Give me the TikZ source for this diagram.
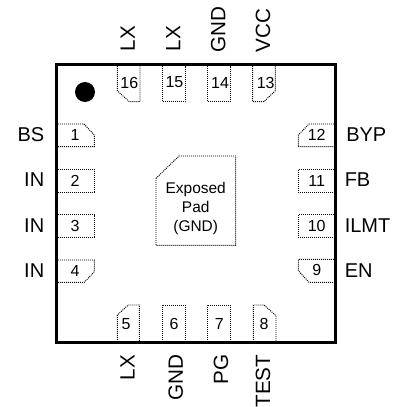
\documentclass[tikz,border=0pt]{standalone}
\usepackage{fontspec}
\setmainfont{Liberation Sans}

\tikzset{
	padline/.style={dash pattern=on 0.75pt off 0.75pt, line width=0.7pt},
	pinnum/.style={font=\fontsize{12}{14.6}\selectfont, inner sep=0pt},
	padtext/.style={font=\fontsize{11.6}{14.6}\selectfont, inner sep=0pt},
	pinname/.style={font=\fontsize{15}{18}\selectfont, inner sep=0pt},
	upname/.style={font=\fontsize{15.5}{18}\selectfont, inner sep=0pt, rotate=90}
}

\begin{document}
\begin{tikzpicture}[x=0.75pt, y=-0.75pt]
	\useasboundingbox (0,0) rectangle (403,407);
	\coordinate (tl) at (56.5, 64.5);
	\coordinate (tr) at (335.5, 64.5);
	\coordinate (br) at (335.5, 342.5);
	\coordinate (bl) at (56.5, 342.5);

	% left pads
	\draw[padline] (58,124) -- (84,124) -- (94.3,135) -- (94.3,146.7) -- (58,146.7);
	\draw[padline] (58,169.3) -- (94.3,169.3) -- (94.3,192) -- (58,192);
	\draw[padline] (58,214.5) -- (94.3,214.5) -- (94.3,237) -- (58,237);
	\draw[padline] (58,260) -- (94.3,260) -- (94.3,271.7) -- (84.3,282.3) -- (58,282.3);
	\node[pinnum] (n1) at (75,135) {1};
	\node[pinnum] (n2) at (75,180.5) {2};
	\node[pinnum] (n3) at (75,226) {3};
	\node[pinnum] (n4) at (75,270.7) {4};

	% bottom pads
	\draw[padline] (117.3,342) -- (117.3,315) -- (128.3,305) -- (139.3,305) -- (139.3,342);
	\draw[padline] (162.3,342) -- (162.3,305) -- (185.3,305) -- (185.3,342);
	\draw[padline] (207.3,342) -- (207.3,305) -- (230.7,305) -- (230.7,342);
	\draw[padline] (253.3,342) -- (253.3,305) -- (264,305) -- (276,315.7) -- (276,342);
	\node[pinnum] (n5) at (126,324) {5};
	\node[pinnum] (n6) at (174,324) {6};
	\node[pinnum] (n7) at (219.3,324) {7};
	\node[pinnum] (n8) at (264,324) {8};

	% right pads
	\draw[padline] (334,259.3) -- (298.3,259.3) -- (298.3,270.7) -- (309,282.3) -- (334,282.3);
	\draw[padline] (334,214.5) -- (298.3,214.5) -- (298.3,237) -- (334,237);
	\draw[padline] (334,169.3) -- (298.3,169.3) -- (298.3,192) -- (334,192);
	\draw[padline] (334,124) -- (309,124) -- (298.3,135) -- (298.3,146.7) -- (334,146.7);
	\node[pinnum] (n9) at (316.7,270) {9};
	\node[pinnum] (n10) at (316.7,225.5) {10};
	\node[pinnum] (n11) at (316.7,180.5) {11};
	\node[pinnum] (n12) at (316.7,134.5) {12};

	% top pads
	\draw[padline] (252.7,66) -- (252.7,101.7) -- (264,101.7) -- (275.3,90.7) -- (275.3,66);
	\draw[padline] (207.3,66) -- (207.3,101.7) -- (230.3,101.7) -- (230.3,66);
	\draw[padline] (162.3,66) -- (162.3,101.7) -- (185,101.7) -- (185,66);
	\draw[padline] (117.3,66) -- (117.3,90.7) -- (129.3,101.7) -- (140,101.7) -- (140,66);
	\node[pinnum] (n13) at (265.7,82.5) {13};
	\node[pinnum] (n14) at (220,82.5) {14};
	\node[pinnum] (n15) at (174.5,82.5) {15};
	\node[pinnum] (n16) at (129.3,82.5) {16};

	% exposed pad
	\draw[padline] (156,178.3) -- (179,156) -- (235.7,156) -- (235.7,245.3) -- (156,245.3) -- cycle;
	\node[padtext, align=center] (gndpad) at (195.7,208.5) {Exposed\\Pad\\(GND)};

	\fill (85,92) circle (10);
	\draw[line width=2pt] (tl) -- (tr) -- (br) -- (bl) -- cycle;

	% names left and right
	\node[pinname, anchor=east] (bs) at (44.5,135) {BS};
	\node[pinname, anchor=east] (in2) at (44.5,180) {IN};
	\node[pinname, anchor=east] (in3) at (44.5,226) {IN};
	\node[pinname, anchor=east] (in4) at (44.5,271) {IN};
	\node[pinname, anchor=west] (byp) at (346,135) {BYP};
	\node[pinname, anchor=west] (fb) at (344.5,180) {FB};
	\node[pinname, anchor=west] (ilmt) at (344.5,226) {ILMT};
	\node[pinname, anchor=west] (en) at (344.5,271) {EN};

	% names top and bottom
	\node[upname, anchor=west] (lx16) at (127.7,51.5) {LX};
	\node[upname, anchor=west] (lx15) at (173.3,51.5) {LX};
	\node[upname, anchor=west] (gnd14) at (218.3,52.5) {GND};
	\node[upname, anchor=west] (vcc) at (263,52.5) {VCC};
	\node[upname, anchor=east] (lx5) at (127.5,354.5) {LX};
	\node[upname, anchor=east] (gnd6) at (175.7,354.5) {GND};
	\node[upname, anchor=east] (pg) at (221,354.5) {PG};
	\node[upname, anchor=east] (test) at (263,354.5) {TEST};
\end{tikzpicture}
\end{document}
